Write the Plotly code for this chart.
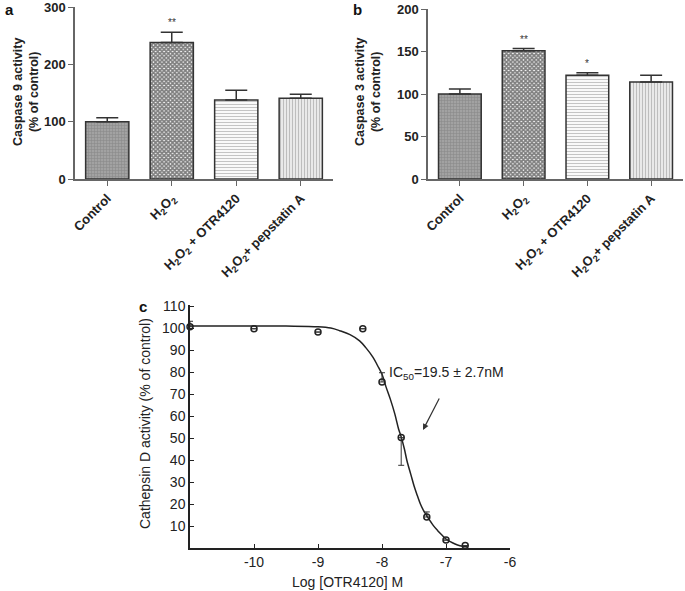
import plotly.graph_objects as go

W, H = 685, 591
FONT = "Liberation Sans, Arial, Helvetica, sans-serif"

# ---------------- data ----------------
categories = ["Control", "H<sub>2</sub>O<sub>2</sub>",
              "H<sub>2</sub>O<sub>2</sub> + OTR4120",
              "H<sub>2</sub>O<sub>2</sub>+ pepstatin A"]

casp9_mean = [100, 238, 138, 141]
casp9_err = [7, 18, 17, 7]
casp9_sig = ["", "**", "", ""]

casp3_mean = [100, 151, 122, 114]
casp3_err = [6, 2.5, 3, 8]
casp3_sig = ["", "**", "*", ""]

logc = [-11, -10, -9, -8.3, -8, -7.7, -7.3, -7, -6.7]
cathD = [100.6, 99.7, 98.2, 99.7, 75.5, 50.2, 14.1, 3.6, 1.1]
cathD_err_up = [2.5, 0, 0, 0, 4.2, 0, 2.3, 0, 0]
cathD_err_dn = [0, 0, 0, 0, 0, 12.6, 0, 0, 0]

# fitted curve
fit_x = [-11, -10, -9.5, -9, -8.8, -8.66, -8.5, -8.35, -8.25, -8.14, -8.07, -8.0,
         -7.94, -7.87, -7.8, -7.74, -7.7, -7.65, -7.61, -7.55, -7.5, -7.45, -7.4,
         -7.35, -7.29, -7.2, -7.13, -7.06, -7.0, -6.9, -6.82, -6.74, -6.66]
fit_y = [101, 101, 100.9, 100.6, 100, 98.8, 97, 94.2, 91, 86.7, 83, 79,
         73.5, 67.7, 61, 54, 50.5, 45, 39.7, 33.5, 28.3, 24, 20,
         17, 14.2, 10.3, 7.9, 5.8, 4.1, 2.4, 1.4, 0.8, 0.5]

c_xticks = [-10, -9, -8, -7, -6]
c_xticktext = ["-10", "-9", "-8", "-7", "-6"]
c_yticks = [10, 20, 30, 40, 50, 60, 70, 80, 90, 100, 110]

# ---------------- styles ----------------
patterns = [
    dict(shape="+", size=3, solidity=0.35, fgcolor="#707070", bgcolor="#a2a2a2"),
    dict(shape="x", size=3, solidity=0.8, fgcolor="#000000", bgcolor="#ffffff"),
    dict(shape="-", size=3, solidity=0.4, fgcolor="#8a8a8a", bgcolor="#ffffff"),
    dict(shape="|", size=3, solidity=0.4, fgcolor="#8c8c8c", bgcolor="#eeeeee"),
]


def X(p):
    return p / W


def Y(p):
    return 1 - p / H


def xdom(a, b):
    return [X(a), min(1, X(b))]


def ydom(top, bottom):
    return [Y(bottom), min(1, Y(top))]


fig = go.Figure()

xs = list(range(len(categories)))
for i in range(len(categories)):
    fig.add_trace(go.Bar(
        x=[xs[i]], y=[casp9_mean[i]], width=0.67,
        marker=dict(color=patterns[i]["bgcolor"], pattern=patterns[i],
                    line=dict(color="#333333", width=1.5)),
        error_y=dict(type="data", array=[casp9_err[i]], arrayminus=[0], symmetric=False,
                     color="#333333", thickness=1.5, width=11),
        xaxis="x", yaxis="y", showlegend=False))
    fig.add_trace(go.Bar(
        x=[xs[i]], y=[casp3_mean[i]], width=0.67,
        marker=dict(color=patterns[i]["bgcolor"], pattern=patterns[i],
                    line=dict(color="#333333", width=1.5)),
        error_y=dict(type="data", array=[casp3_err[i]], arrayminus=[0], symmetric=False,
                     color="#333333", thickness=1.5, width=11),
        xaxis="x2", yaxis="y2", showlegend=False))

# panel c
fig.add_trace(go.Scatter(x=fit_x, y=fit_y, mode="lines", line=dict(color="#222222", width=1.5, shape="spline"),
                         xaxis="x3", yaxis="y3", showlegend=False, cliponaxis=False))
fig.add_trace(go.Scatter(
    x=logc, y=cathD, mode="markers",
    marker=dict(symbol="circle-open", size=6, color="#222222", line=dict(width=1.5)),
    error_y=dict(type="data", array=cathD_err_up, arrayminus=cathD_err_dn, symmetric=False,
                 color="#333333", thickness=1, width=3),
    xaxis="x3", yaxis="y3", showlegend=False, cliponaxis=False))

bold_tick = dict(family=FONT, size=13, color="#222222", weight="bold")
ax_common_bar = dict(showline=True, linecolor="#666666", linewidth=1.5, ticks="outside",
                     tickcolor="#666666", ticklen=5, tickwidth=1.2, showgrid=False, zeroline=False,
                     automargin=False, ticklabeloverflow="allow")

fig.update_layout(
    width=W, height=H, margin=dict(l=0, r=0, t=0, b=0, autoexpand=False),
    paper_bgcolor="white", plot_bgcolor="white",
    barmode="overlay", font=dict(family=FONT),
    xaxis=dict(domain=xdom(75, 333), range=[-0.5, 3.5], tickmode="array",
               tickvals=xs, ticktext=categories, tickangle=-45, tickfont=bold_tick,
               anchor="y", **ax_common_bar),
    yaxis=dict(domain=ydom(7, 179), range=[0, 300], tickmode="array", tickvals=[0, 100, 200, 300],
               tickfont=bold_tick, anchor="x", **ax_common_bar),
    xaxis2=dict(domain=xdom(428, 683), range=[-0.5, 3.5], tickmode="array",
                tickvals=xs, ticktext=categories, tickangle=-45, tickfont=bold_tick,
                anchor="y2", **ax_common_bar),
    yaxis2=dict(domain=ydom(9, 179), range=[0, 200], tickmode="array", tickvals=[0, 50, 100, 150, 200],
                tickfont=bold_tick, anchor="x2", **ax_common_bar),
    xaxis3=dict(domain=xdom(190, 510), range=[-11, -6], tickmode="array", tickvals=c_xticks,
                ticktext=c_xticktext,
                showline=True, linecolor="#222222", linewidth=1.5, ticks="inside",
                tickcolor="#222222", ticklen=4, showgrid=False, zeroline=False, automargin=False,
                ticklabeloverflow="allow",
                tickfont=dict(family=FONT, size=14, color="#222222"), anchor="y3"),
    yaxis3=dict(domain=ydom(305, 548), range=[0, 110.5], tickmode="array", tickvals=c_yticks,
                showline=True, linecolor="#222222", linewidth=1.5, ticks="inside",
                tickcolor="#222222", ticklen=4, showgrid=False, zeroline=False, automargin=False,
                ticklabeloverflow="allow",
                tickfont=dict(family=FONT, size=14, color="#222222"), anchor="x3"),
)

ann = []
# asterisks
for i, s in enumerate(casp9_sig):
    if s:
        ann.append(dict(x=xs[i], y=casp9_mean[i] + casp9_err[i], xref="x", yref="y", text=s,
                        showarrow=False, yanchor="bottom", yshift=2,
                        font=dict(family=FONT, size=10, color="#333333")))
for i, s in enumerate(casp3_sig):
    if s:
        ann.append(dict(x=xs[i], y=casp3_mean[i] + casp3_err[i], xref="x2", yref="y2", text=s,
                        showarrow=False, yanchor="bottom", yshift=2,
                        font=dict(family=FONT, size=10, color="#333333")))
# panel labels
for t, x, y in [("a", 9, 9), ("b", 357, 9), ("c", 143, 306)]:
    ann.append(dict(x=X(x), y=Y(y), xref="paper", yref="paper", text=t, showarrow=False,
                    xanchor="center", yanchor="middle",
                    font=dict(family=FONT, size=15, color="#111111", weight="bold")))
# y titles
ann.append(dict(x=X(26), y=Y(92), xref="paper", yref="paper", xanchor="center", yanchor="middle",
                text="Caspase 9 activity<br>(% of control)", textangle=-90, showarrow=False,
                font=dict(family=FONT, size=12.5, color="#222222", weight="bold")))
ann.append(dict(x=X(368), y=Y(92), xref="paper", yref="paper", xanchor="center", yanchor="middle",
                text="Caspase 3 activity<br>(% of control)", textangle=-90, showarrow=False,
                font=dict(family=FONT, size=12.5, color="#222222", weight="bold")))
ann.append(dict(x=X(145), y=Y(424), xref="paper", yref="paper", xanchor="center", yanchor="middle",
                text="Cathepsin D activity (% of control)", textangle=-90, showarrow=False,
                font=dict(family=FONT, size=14, color="#222222")))
ann.append(dict(x=X(348), y=Y(582), xref="paper", yref="paper", xanchor="center", yanchor="middle",
                text="Log [OTR4120] M", showarrow=False,
                font=dict(family=FONT, size=14, color="#222222")))
# IC50 label
ann.append(dict(x=X(387), y=Y(373), xref="paper", yref="paper", xanchor="left", yanchor="middle",
                text="IC<sub>50</sub>=19.5 ± 2.7nM", showarrow=False,
                font=dict(family=FONT, size=14, color="#222222")))
ann.append(dict(x=X(423), y=Y(430), xref="paper", yref="paper", showarrow=True,
                ax=17, ay=-33, arrowhead=2, arrowsize=1, arrowwidth=1.2, arrowcolor="#333333", text=""))
fig.update_layout(annotations=ann)

fig.write_html("out.html", config={"displayModeBar": False},
               post_script="document.body.style.margin='0';")
